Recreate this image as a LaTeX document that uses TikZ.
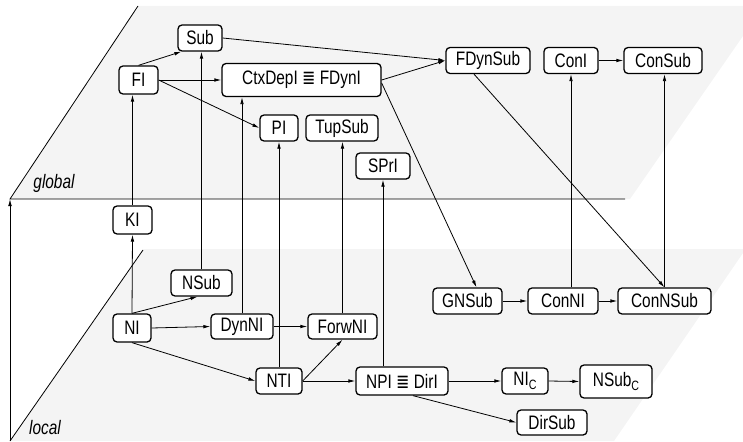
\documentclass[tikz,border=0pt]{standalone}
\usepackage{fontspec}
\setmainfont{Liberation Sans}[FakeStretch=0.79]
\newfontfamily\symfont{DejaVu Sans}[FakeStretch=0.82]
\usetikzlibrary{arrows.meta}
\newcommand{\eqv}{{\symfont\char"2263}}
\newcommand{\subC}{\raisebox{-4pt}{\fontsize{13.5}{13.5}\selectfont C}}
\definecolor{planegray}{HTML}{F4F4F4}
\tikzset{
  box/.style={draw, rounded corners=4pt, fill=white, line width=1.3pt,
    inner sep=0pt, minimum height=26pt, font=\fontsize{19.5}{21}\selectfont},
  conn/.style={line width=0.8pt, -{Latex[length=7pt,width=3.6pt]}},
  plane/.style={fill=planegray, draw=none},
  edge/.style={line width=0.8pt},
  lvl/.style={font=\fontsize{19.5}{21}\selectfont\itshape}
}
\begin{document}
\begin{tikzpicture}[x=1pt,y=-1pt]
\useasboundingbox (0,0) rectangle (743,441);
% planes
\fill[plane] (138,6) -- (743,6) -- (743,36) -- (630,199) -- (10,199) -- cycle;
\fill[plane] (143,249) -- (743,249) -- (743,253) -- (614,441) -- (10,441) -- cycle;
\coordinate (gtl) at (138,6);
\coordinate (gbl) at (10,199);
\coordinate (gbr) at (625,199);
\coordinate (ltl) at (143,250);
\coordinate (lbl) at (10,441);
\draw[edge] (gtl) -- (gbl) -- (gbr);
\draw[edge] (ltl) -- (lbl);
\draw[conn] (lbl) -- (gbl);
\node[lvl] (glob) at (54,183) {global};
\node[lvl] (loc) at (45,428) {local};
% nodes
\node[box, minimum width=44pt] (Sub) at (200,38) {Sub};
\node[box, minimum width=39pt, minimum height=28pt] (FI) at (138.5,80) {FI};
\node[box, minimum width=159pt, minimum height=33pt] (Ctx) at (301.5,80) {CtxDepI \eqv{} FDynI};
\node[box, minimum width=38pt] (PI) at (279,128) {PI};
\node[box, minimum width=72pt] (TupSub) at (342,128) {TupSub};
\node[box, minimum width=54pt] (SPrI) at (383,166) {SPrI};
\node[box, minimum width=84pt] (FDynSub) at (488,60.5) {FDynSub};
\node[box, minimum width=54pt] (ConI) at (571,60.5) {ConI};
\node[box, minimum width=78pt] (ConSub) at (663,60.5) {ConSub};
\node[box, minimum width=39pt, minimum height=28pt] (KI) at (132.5,220) {KI};
\node[box, minimum width=61pt] (NSub) at (201.5,283) {NSub};
\node[box, minimum width=38pt, minimum height=28pt] (NI) at (132,328) {NI};
\node[box, minimum width=62pt, minimum height=25pt] (DynNI) at (242,326.5) {DynNI};
\node[box, minimum width=69pt, minimum height=25pt] (ForwNI) at (342.5,326.5) {ForwNI};
\node[box, minimum width=46pt] (NTI) at (279,381) {NTI};
\node[box, minimum width=92pt, minimum height=28pt] (NPI) at (402,381) {NPI \eqv{} DirI};
\node[box, minimum width=69pt] (GNSub) at (467.5,301) {GNSub};
\node[box, minimum width=70pt] (ConNI) at (563,301) {ConNI};
\node[box, minimum width=93pt] (ConNSub) at (664.5,301) {ConNSub};
\node[box, minimum width=46pt] (NIc) at (525,381) {NI\subC};
\node[box, minimum width=72pt, minimum height=33pt] (NSubc) at (616,381.5) {NSub\subC};
\node[box, minimum width=70pt, minimum height=25pt] (DirSub) at (552,422.5) {DirSub};
% connectors (global)
\draw[conn] (FI.north) -- ([xshift=4pt]Sub.south west);
\draw[conn] (FI.east) -- (Ctx.west);
\draw[conn] (FI.east) -- (PI.west);
\draw[conn] (Sub.east) -- (FDynSub.west);
\draw[conn] (Ctx.east) -- (FDynSub.west);
\draw[conn] ([yshift=-3pt]Ctx.east) -- ([xshift=9pt]GNSub.north);
\draw[conn] ([xshift=-14pt]FDynSub.south) -- (ConNSub.north);
\draw[conn] (ConI.east) -- (ConSub.west);
% vertical connectors
\draw[conn] (KI.north) -- (KI.north |- FI.south);
\draw[conn] (NI.north) -- (KI.south);
\draw[conn] (NSub.north) -- (NSub.north |- Sub.south);
\draw[conn] (DynNI.north) -- (DynNI.north |- Ctx.south);
\draw[conn] (NTI.north) -- (PI.south);
\draw[conn] (ForwNI.north) -- (ForwNI.north |- TupSub.south);
\draw[conn] (SPrI.south |- NPI.north) -- (SPrI.south);
\draw[conn] (ConI.south |- ConNI.north) -- (ConI.south);
\draw[conn] (ConNSub.north) -- (ConNSub.north |- ConSub.south);
% local
\draw[conn] (NI.north) -- ([xshift=-4pt]NSub.south);
\draw[conn] (NI.east) -- (DynNI.west);
\draw[conn] (DynNI.east) -- (ForwNI.west);
\draw[conn] (NI.south) -- (NTI.west);
\draw[conn] (NTI.east) -- (ForwNI.south);
\draw[conn] (NTI.east) -- (NPI.west);
\draw[conn] (NPI.east) -- (NIc.west);
\draw[conn] (NIc.east) -- (NSubc.west);
\draw[conn] ([xshift=11pt]NPI.south) -- (DirSub.west);
\draw[conn] (GNSub.east) -- (ConNI.west);
\draw[conn] (ConNI.east) -- (ConNSub.west);
\end{tikzpicture}
\end{document}
